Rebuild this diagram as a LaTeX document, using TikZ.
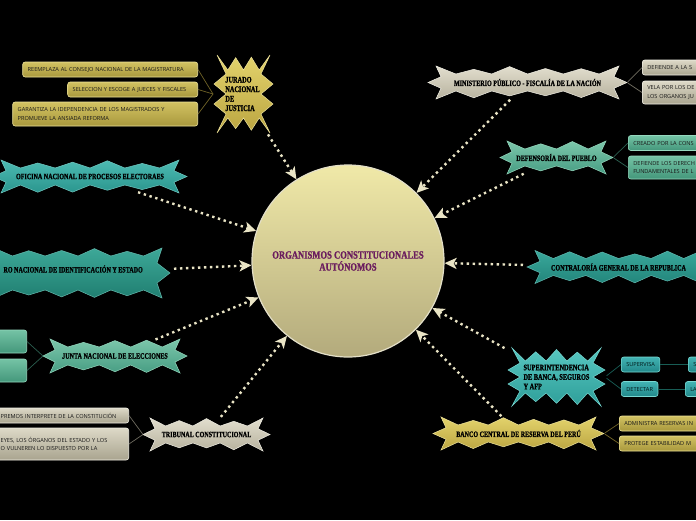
\documentclass[tikz,border=0pt]{standalone}
\usepackage{fontspec}
\usetikzlibrary{arrows.meta}
\newfontfamily\boxfont{Open Sans}
\newfontfamily\starfont[FakeStretch=0.74,FakeBold=1.2]{Liberation Serif}
\newfontfamily\orgfont[FakeStretch=0.78,FakeBold=1.2]{Liberation Serif}
\definecolor{orgtop}{HTML}{F0E9A8}
\definecolor{orgbot}{HTML}{B3AA7C}
\definecolor{orgline}{HTML}{E3DFC8}
\definecolor{purp}{HTML}{6B1D5E}
\definecolor{dotc}{HTML}{E9E4C5}
\definecolor{goldT}{HTML}{E3D36C}
\definecolor{goldB}{HTML}{BBA541}
\definecolor{goldL}{HTML}{EDE29A}
\definecolor{grayT}{HTML}{E2DECE}
\definecolor{grayB}{HTML}{B7B29E}
\definecolor{grayL}{HTML}{F0EEE4}
\definecolor{greenT}{HTML}{7CC7AB}
\definecolor{greenB}{HTML}{479D83}
\definecolor{greenL}{HTML}{95D8BE}
\definecolor{tealAT}{HTML}{4DBBB3}
\definecolor{tealAB}{HTML}{2A958D}
\definecolor{tealBT}{HTML}{3AA89C}
\definecolor{tealBB}{HTML}{22857A}
\definecolor{tealCT}{HTML}{3DA898}
\definecolor{tealCB}{HTML}{207F71}
\definecolor{sbsT}{HTML}{57C7C1}
\definecolor{sbsB}{HTML}{2E9E99}
\definecolor{sbsL}{HTML}{78D8D2}
\definecolor{bxgoldT}{HTML}{D2C262}
\definecolor{bxgoldB}{HTML}{A8983D}
\definecolor{bxgrayT}{HTML}{DDD9C7}
\definecolor{bxgrayB}{HTML}{A9A48F}
\definecolor{bxgreenT}{HTML}{74C3A5}
\definecolor{bxgreenB}{HTML}{44977B}
\definecolor{bxtealT}{HTML}{42B3B3}
\definecolor{bxtealB}{HTML}{22888A}
\def\bursth{3}
\def\burstc{2}
% #1 style, #2 cx, #3 cy, #4 half width, #5 half height, #6 teeth per long edge, #7 side points (odd), #8 side spike
\newcommand\myburst[8]{%
\path[#1] ({#2-#4-\burstc},{#3-#5-\bursth-\burstc})
 \foreach \k in {1,...,#6}{
  -- ({#2-#4+2*#4*(\k-0.5)/#6},{#3-#5+\bursth})
  -- ({#2-#4+2*#4*\k/#6+\burstc*(\k==#6)},{#3-#5-\bursth-\burstc*(\k==#6)-1.5*sin(\k*131+#2)*(\k<#6)})
 }
 \foreach \j in {1,...,#7}{
  -- ({#2+#4-\bursth*mod(\j,2)+#8*(1-mod(\j,2))},{#3-#5+2*#5*\j/(#7+1)})
 }
 -- ({#2+#4+\burstc},{#3+#5+\bursth+\burstc})
 \foreach \k in {1,...,#6}{
  -- ({#2+#4-2*#4*(\k-0.5)/#6},{#3+#5-\bursth})
  -- ({#2+#4-2*#4*\k/#6-\burstc*(\k==#6)},{#3+#5+\bursth+\burstc*(\k==#6)+1.5*sin(\k*77+#3)*(\k<#6)})
 }
 \foreach \j in {1,...,#7}{
  -- ({#2-#4+\bursth*mod(\j,2)-#8*(1-mod(\j,2))},{#3+#5-2*#5*\j/(#7+1)})
 }
 -- cycle;}
\tikzset{
 goldstar/.style={top color=goldT, bottom color=goldB, draw=goldL, line width=0.5pt},
 graystar/.style={top color=grayT, bottom color=grayB, draw=grayL, line width=0.5pt},
 greenstar/.style={top color=greenT, bottom color=greenB, draw=greenL, line width=0.5pt},
 tealA/.style={top color=tealAT, bottom color=tealAB, draw=tealAT!80!white, line width=0.5pt},
 tealB/.style={top color=tealBT, bottom color=tealBB, draw=tealBT!80!white, line width=0.5pt},
 tealC/.style={top color=tealCT, bottom color=tealCB, draw=tealCT!80!white, line width=0.5pt},
 sbsstar/.style={top color=sbsT, bottom color=sbsB, draw=sbsL, line width=0.5pt},
 hit/.style={rectangle, inner sep=0pt, outer sep=0pt, text=black,
   font=\starfont\bfseries\fontsize{8.2}{9}\selectfont},
 startxt/.style={inner sep=0pt, text=black, font=\starfont\bfseries\fontsize{8.2}{9}\selectfont},
 bx/.style={rectangle, rounded corners=2.5pt, inner xsep=5pt, inner ysep=1pt, minimum height=15pt,
   align=left, font=\boxfont\fontsize{5.6}{8.5}\selectfont, line width=0.6pt},
 goldbox/.style={bx, top color=bxgoldT, bottom color=bxgoldB, draw=goldL, text=black!90},
 graybox/.style={bx, top color=bxgrayT, bottom color=bxgrayB, draw=grayL, text=black!90},
 greenbox/.style={bx, top color=bxgreenT, bottom color=bxgreenB, draw=greenL, text=black!90},
 tealbox/.style={bx, top color=bxtealT, bottom color=bxtealB, draw=sbsL, text=black!80!teal},
 goldline/.style={draw=goldB!60!black, line width=0.7pt},
 grayline/.style={draw=grayB!60!black, line width=0.7pt},
 greenline/.style={draw=greenB!60!black, line width=0.7pt},
 tealline/.style={draw=tealBB!70!black, line width=0.7pt},
 dotconn/.style={draw=dotc, line width=2.4pt, dash pattern=on 2.4pt off 3.6pt,
   shorten <=4pt, -{Stealth[length=12pt,width=11pt,inset=3pt]}}
}
\begin{document}
\begin{tikzpicture}[x=1pt,y=-1pt]
\useasboundingbox (0,0) rectangle (696,520);
\fill[black] (0,0) rectangle (696,520);
\clip (0,0) rectangle (696,520);

% ---------- star shapes ----------
{\def\bursth{6}\def\burstc{3}\myburst{goldstar}{243.5}{94}{23.5}{30}{3}{5}{6}}
\myburst{graystar}{527.5}{82.5}{89.5}{11.5}{5}{3}{10}
\myburst{greenstar}{556.5}{157.5}{47.5}{11.5}{3}{3}{9}
\myburst{tealB}{618.5}{267}{81.5}{11.5}{5}{3}{10}
{\def\bursth{5}\def\burstc{3}\myburst{sbsstar}{556.5}{377}{41.5}{21}{4}{5}{7}}
\myburst{goldstar}{518.5}{433.5}{75.5}{11.5}{5}{3}{10}
\myburst{graystar}{206.5}{434.5}{54.5}{11.5}{4}{3}{9}
\myburst{greenstar}{115}{356}{63}{12}{4}{3}{9}
\myburst{tealC}{78}{273}{82}{20}{5}{3}{10}
\myburst{tealA}{90}{176.5}{87}{11.5}{5}{3}{10}

% ---------- star nodes ----------
\node[hit, minimum width=59pt, minimum height=74pt, align=left,
  font=\starfont\bfseries\fontsize{8.5}{9.5}\selectfont] (jnj) at (242.5,94) {JURADO\\NACIONAL\\DE\\JUSTICIA};
\node[hit, minimum width=199pt, minimum height=29pt] (mp) at (527.5,82.5) {MINISTERIO PÚBLICO - FISCALÍA DE LA NACIÓN};
\node[hit, minimum width=113pt, minimum height=29pt] (def) at (556.5,157.5) {DEFENSORÍA DEL PUEBLO};
\node[hit, minimum width=183pt, minimum height=29pt] (contra) at (618.5,267) {CONTRALORÍA GENERAL DE LA REPUBLICA};
\node[hit, minimum width=97pt, minimum height=58pt, align=left,
  font=\starfont\bfseries\fontsize{8.5}{9.5}\selectfont] (sbs) at (556.5,377) {SUPERINTENDENCIA\\DE BANCA, SEGUROS\\Y AFP};
\node[hit, minimum width=171pt, minimum height=29pt] (bcr) at (518.5,433.5) {BANCO CENTRAL DE RESERVA DEL PERÚ};
\node[hit, minimum width=127pt, minimum height=29pt] (tc) at (206.5,434.5) {TRIBUNAL CONSTITUCIONAL};
\node[hit, minimum width=144pt, minimum height=30pt] (jne) at (115,356) {JUNTA NACIONAL DE ELECCIONES};
\node[hit, minimum width=184pt, minimum height=46pt] (reniec) at (78,273) {};
\node[startxt, anchor=east] (reniect) at (143,269) {RO NACIONAL DE IDENTIFICACIÓN Y ESTADO};
\node[hit, minimum width=194pt, minimum height=29pt] (onpe) at (90,176.5) {OFICINA NACIONAL DE PROCESOS ELECTORAES};

% ---------- child boxes ----------
\node[goldbox, anchor=east, text width=165pt] (jb1) at (198,69.5) {REEMPLAZA AL CONSEJO NACIONAL DE LA MAGISTRATURA};
\node[goldbox, anchor=east, text width=120pt] (jb2) at (198,89.5) {SELECCION Y ESCOGE A JUECES Y FISCALES};
\node[goldbox, anchor=east, text width=175pt, minimum height=24pt] (jb3) at (198,114) {GARANTIZA LA IDEPENDENCIA DE LOS MAGISTRADOS Y\\PROMUEVE LA ANSIADA REFORMA};

\node[graybox, anchor=west, text width=90pt] (mb1) at (642,67.5) {DEFIENDE A LA S};
\node[graybox, anchor=west, text width=90pt, minimum height=23pt] (mb2) at (642,92.5) {VELA POR LOS DE\\LOS ORGANOS JU};

\node[greenbox, anchor=west, text width=90pt] (db1) at (628,143) {CREADO POR LA CONS};
\node[greenbox, anchor=west, text width=90pt, minimum height=23pt] (db2) at (628,167.5) {DEFIENDE LOS DERECH\\FUNDAMENTALES DE L};

\node[tealbox, anchor=west] (sb1) at (621,364.5) {SUPERVISA};
\node[tealbox, anchor=west, text width=40pt] (sb1b) at (688,364.5) {S};
\node[tealbox, anchor=west] (sb2) at (621,389) {DETECTAR};
\node[tealbox, anchor=west, text width=40pt] (sb2b) at (685,389) {LA};

\node[goldbox, anchor=west, text width=100pt] (cb1) at (619,423.5) {ADMINISTRA RESERVAS IN};
\node[goldbox, anchor=west, text width=100pt] (cb2) at (619,443.5) {PROTEGE ESTABILIDAD M};

\node[graybox, anchor=east, text width=123pt] (tb1) at (129,415.5) {PREMOS INTERPRETE DE LA CONSTITUCIÓN};
\node[graybox, anchor=east, text width=123pt, minimum height=32pt] (tb2) at (129,444) {EYES, LOS ÓRGANOS DEL ESTADO Y LOS\\O VULNEREN LO DISPUESTO POR LA};

\node[greenbox, anchor=east, minimum width=60pt, minimum height=23pt] (jeb1) at (27,341.5) {};
\node[greenbox, anchor=east, minimum width=60pt, minimum height=23pt] (jeb2) at (27,370.5) {};

% ---------- thin connectors ----------
\draw[goldline] (jb1.east) -- (jnj.west);
\draw[goldline] (jb2.east) -- (jnj.west);
\draw[goldline] (jb3.east) -- (jnj.west);
\draw[grayline, shorten <=1pt] (mp.east) -- (mb1.west);
\draw[grayline, shorten <=1pt] (mp.east) -- (mb2.west);
\draw[greenline, shorten <=1pt] (def.east) -- (db1.west);
\draw[greenline, shorten <=1pt] (def.east) -- (db2.west);
\draw[tealline, shorten <=2pt] (sbs.east) -- (sb1.west);
\draw[tealline, shorten <=2pt] (sbs.east) -- (sb2.west);
\draw[tealline] (sb1.east) -- (sb1b.west);
\draw[tealline] (sb2.east) -- (sb2b.west);
\draw[goldline, shorten <=1pt] (bcr.east) -- (cb1.west);
\draw[goldline, shorten <=1pt] (bcr.east) -- (cb2.west);
\draw[grayline] (tb1.east) -- (tc.west);
\draw[grayline] (tb2.east) -- (tc.west);
\draw[greenline] (jeb1.east) -- (jne.west);
\draw[greenline] (jeb2.east) -- (jne.west);

% ---------- central circle ----------
\node[circle, minimum size=192pt, inner sep=0pt, top color=orgtop, bottom color=orgbot,
  draw=orgline, line width=1.2pt, align=center, text=purp,
  font=\orgfont\bfseries\fontsize{11}{12}\selectfont] (org) at (348,261)
  {ORGANISMOS CONSTITUCIONALES\\AUTÓNOMOS};

% ---------- dotted connectors ----------
\draw[dotconn] (jnj) -- (org);
\draw[dotconn] (mp) -- (org);
\draw[dotconn] (def) -- (org);
\draw[dotconn] (contra) -- (org);
\draw[dotconn] (sbs) -- (org);
\draw[dotconn] (bcr) -- (org);
\draw[dotconn] (tc) -- (org);
\draw[dotconn] (jne) -- (org);
\draw[dotconn] (reniec) -- (org);
\draw[dotconn] (onpe) -- (org);
\end{tikzpicture}
\end{document}
